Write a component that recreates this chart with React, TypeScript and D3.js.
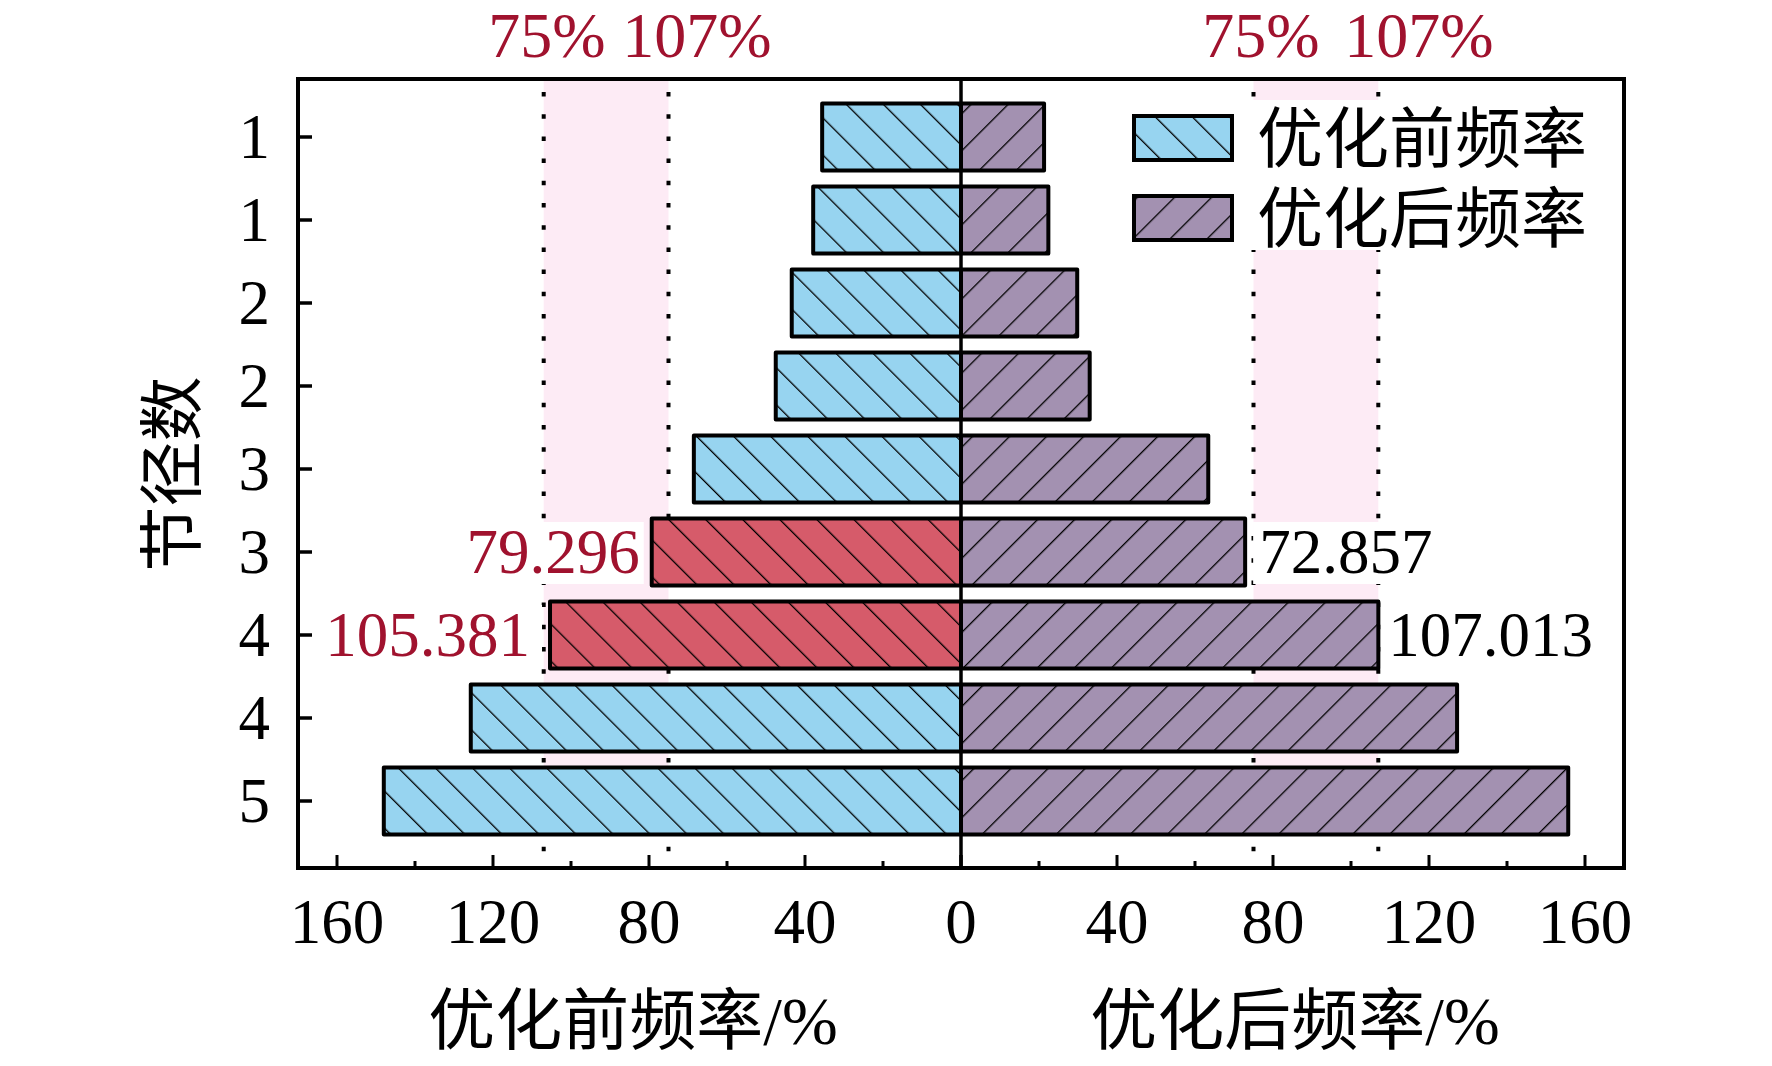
import React from "react";
import * as d3 from "d3";

// ---------- data ----------
const categories = ["1", "1", "2", "2", "3", "3", "4", "4", "5"];
const beforeValues = [35.6, 37.9, 43.4, 47.5, 68.5, 79.296, 105.381, 125.7, 148.0];
const afterValues = [21.3, 22.4, 29.8, 33.0, 63.4, 72.857, 107.013, 127.2, 155.7];
const highlightRows = [5, 6];
const majorTicks = [0, 40, 80, 120, 160];
const minorTicks = [20, 60, 100, 140];
const bandLimits = [75, 107];
const bandLabels = ["75%", "107%"];
const legendLabels = ["优化前频率", "优化后频率"];
const leftTitle = "优化前频率/%";
const rightTitle = "优化后频率/%";
const yTitle = "节径数";

// ---------- style ----------
const W = 1772;
const H = 1066;
const BLUE = "#97D4F0";
const PURPLE = "#A391B1";
const RED = "#D65B6A";
const PINK = "#FDEBF5";
const DARKRED = "#A0122E";
const SERIF = "'Liberation Serif', 'Times New Roman', 'Noto Sans CJK SC', serif";
const CJK = "'Liberation Serif', 'Noto Sans CJK SC', sans-serif";

const frame = { left: 298, right: 1624, top: 79, bottom: 868 };
const cx = 961;

export default function App() {
  const xL = d3.scaleLinear().domain([0, 170]).range([cx, frame.left]);
  const xR = d3.scaleLinear().domain([0, 170]).range([cx, frame.right]);
  const y = d3.scaleLinear().domain([0, categories.length - 1]).range([137, 801]);
  const barH = 67;
  const bandTop = frame.top;
  const bandBottom = y(categories.length - 1) + barH / 2;

  const fmt = d3.format(".3f");

  return (
    <svg
      width={W}
      height={H}
      style={{ position: "absolute", left: 0, top: 0, background: "#fff" }}
    >
      <defs>
        <pattern id="hatchBack" patternUnits="userSpaceOnUse" width={26.2} height={20} patternTransform="rotate(-45)">
          <line x1={0} y1={0} x2={0} y2={20} stroke="#000" strokeWidth={2.6} />
        </pattern>
        <pattern id="hatchFwd" patternUnits="userSpaceOnUse" width={26.2} height={20} patternTransform="rotate(45)">
          <line x1={0} y1={0} x2={0} y2={20} stroke="#000" strokeWidth={2.6} />
        </pattern>
      </defs>

      {/* pink bands */}
      {[xL, xR].map((sc, i) => (
        <rect
          key={"band" + i}
          x={Math.min(sc(bandLimits[0]), sc(bandLimits[1]))}
          y={bandTop}
          width={Math.abs(sc(bandLimits[1]) - sc(bandLimits[0]))}
          height={bandBottom - bandTop}
          fill={PINK}
        />
      ))}

      {/* dotted lines */}
      {[xL, xR].map((sc, i) =>
        bandLimits.map((v, j) => (
          <line
            key={`dot${i}${j}`}
            x1={sc(v)}
            x2={sc(v)}
            y1={92}
            y2={frame.bottom}
            stroke="#000"
            strokeWidth={4}
            strokeDasharray="4.5 17.7"
          />
        ))
      )}

      {/* legend background */}
      <rect x={1118} y={100} width={495} height={150} fill="#fff" />

      {/* value label backgrounds */}
      {highlightRows.map((r) => (
        <g key={"lbg" + r}>
          <rect
            x={xL(beforeValues[r]) - 12 - fmt(beforeValues[r]).length * 29 - 4}
            y={y(r) - 30}
            width={fmt(beforeValues[r]).length * 29 + 8}
            height={62}
            fill="#fff"
          />
          <rect
            x={xR(afterValues[r]) + 8}
            y={y(r) - 30}
            width={fmt(afterValues[r]).length * 29 + 8}
            height={62}
            fill="#fff"
          />
        </g>
      ))}

      {/* bars */}
      {categories.map((c, i) => {
        const isHi = highlightRows.includes(i);
        const yTop = y(i) - barH / 2;
        const xl = xL(beforeValues[i]);
        const xr = xR(afterValues[i]);
        return (
          <g key={"bar" + i}>
            <rect x={xl} y={yTop} width={cx - xl} height={barH} fill={isHi ? RED : BLUE} />
            <rect x={xl} y={yTop} width={cx - xl} height={barH} fill="url(#hatchBack)" />
            <rect x={xl} y={yTop} width={cx - xl} height={barH} fill="none" stroke="#000" strokeWidth={4} strokeLinejoin="round" />
            <rect x={cx} y={yTop} width={xr - cx} height={barH} fill={PURPLE} />
            <rect x={cx} y={yTop} width={xr - cx} height={barH} fill="url(#hatchFwd)" />
            <rect x={cx} y={yTop} width={xr - cx} height={barH} fill="none" stroke="#000" strokeWidth={4} strokeLinejoin="round" />
          </g>
        );
      })}

      {/* value labels */}
      {highlightRows.map((r) => (
        <g key={"lab" + r} fontFamily={SERIF} fontSize={63}>
          <text
            x={xL(beforeValues[r]) - (r === 6 ? 20 : 12)}
            y={y(r)}
            dy="0.34em"
            textAnchor="end"
            fill={DARKRED}
          >
            {fmt(beforeValues[r])}
          </text>
          <text
            x={xR(afterValues[r]) + (r === 6 ? 10 : 14)}
            y={y(r)}
            dy="0.34em"
            textAnchor="start"
            fill="#000"
          >
            {fmt(afterValues[r])}
          </text>
        </g>
      ))}

      {/* center line */}
      <line x1={cx} x2={cx} y1={frame.top} y2={frame.bottom} stroke="#000" strokeWidth={3.5} />

      {/* x ticks */}
      {[xL, xR].map((sc, i) => (
        <g key={"xt" + i}>
          {majorTicks.map((t) => (
            <line key={"M" + t} x1={sc(t)} x2={sc(t)} y1={frame.bottom} y2={frame.bottom - 13} stroke="#000" strokeWidth={3} />
          ))}
          {minorTicks.map((t) => (
            <line key={"m" + t} x1={sc(t)} x2={sc(t)} y1={frame.bottom} y2={frame.bottom - 7} stroke="#000" strokeWidth={3} />
          ))}
          {majorTicks.map((t) =>
            i === 1 && t === 0 ? null : (
              <text
                key={"l" + t}
                x={sc(t)}
                y={943}
                textAnchor="middle"
                fontFamily={SERIF}
                fontSize={63}
                fill="#000"
              >
                {t}
              </text>
            )
          )}
        </g>
      ))}

      {/* y ticks */}
      {categories.map((c, i) => (
        <g key={"yt" + i}>
          <line x1={frame.left} x2={frame.left + 14} y1={y(i)} y2={y(i)} stroke="#000" strokeWidth={3.5} />
          <text x={270} y={y(i)} dy="0.34em" textAnchor="end" fontFamily={SERIF} fontSize={63} fill="#000">
            {c}
          </text>
        </g>
      ))}

      {/* frame */}
      <rect
        x={frame.left}
        y={frame.top}
        width={frame.right - frame.left}
        height={frame.bottom - frame.top}
        fill="none"
        stroke="#000"
        strokeWidth={4}
      />

      {/* top band labels */}
      <text x={547} y={57} fontFamily={SERIF} fontSize={64} fill={DARKRED} textAnchor="middle">
        {bandLabels[0]}
      </text>
      <text x={697} y={57} fontFamily={SERIF} fontSize={64} fill={DARKRED} textAnchor="middle">
        {bandLabels[1]}
      </text>
      <text x={1261} y={57} fontFamily={SERIF} fontSize={64} fill={DARKRED} textAnchor="middle">
        {bandLabels[0]}
      </text>
      <text x={1419} y={57} fontFamily={SERIF} fontSize={64} fill={DARKRED} textAnchor="middle">
        {bandLabels[1]}
      </text>

      {/* legend */}
      {legendLabels.map((l, i) => {
        const ly = 116 + i * 80;
        return (
          <g key={"leg" + i}>
            <rect x={1134} y={ly} width={98} height={44} fill={i === 0 ? BLUE : PURPLE} />
            <rect x={1134} y={ly} width={98} height={44} fill={i === 0 ? "url(#hatchBack)" : "url(#hatchFwd)"} />
            <rect x={1134} y={ly} width={98} height={44} fill="none" stroke="#000" strokeWidth={4} />
            <text x={1257} y={ly + 22} dy="0.36em" fontFamily={CJK} fontSize={66} fill="#000">
              {l}
            </text>
          </g>
        );
      })}

      {/* axis titles */}
      <text x={633} y={1044} textAnchor="middle" fontFamily={CJK} fontSize={67} fill="#000">
        {leftTitle}
      </text>
      <text x={1295} y={1044} textAnchor="middle" fontFamily={CJK} fontSize={67} fill="#000">
        {rightTitle}
      </text>
      <text
        transform={`translate(172, 474) rotate(-90)`}
        textAnchor="middle"
        dy="0.36em"
        fontFamily={CJK}
        fontSize={65}
        fill="#000"
      >
        {yTitle}
      </text>
    </svg>
  );
}
